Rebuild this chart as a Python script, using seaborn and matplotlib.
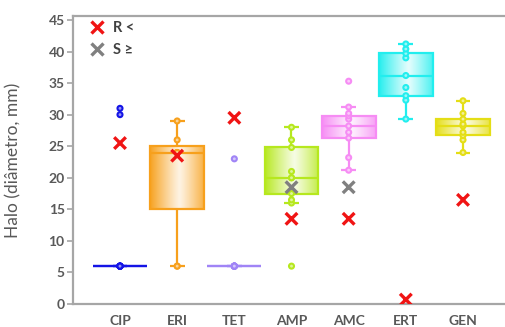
import numpy as np
import pandas as pd
import matplotlib
matplotlib.use("Agg")
import matplotlib.pyplot as plt
import matplotlib.colors as mcolors
import seaborn as sns

# ---------------- data ----------------
categories = ['CIP', 'ERI', 'TET', 'AMP', 'AMC', 'ERT', 'GEN']
colors = ['#1414E6', '#F7A01C', '#A084F6', '#B6E81E', '#F68CF4', '#22EEEE', '#E4DE16']

inner_CIP = [6, 6, 6, 6, 6, 6, 6, 6]
inner_ERI = [6, 6, 24, 24, 24, 26, 29]
inner_TET = [6, 6, 6, 6, 6, 6, 6, 6]
inner_AMP = [16, 16.5, 17.5, 20, 20, 21, 24.8, 26, 28]
inner_AMC = [21.2, 23.2, 26.3, 27.2, 28.2, 29.3, 29.8, 30.2, 31.2]
inner_ERT = [29.3, 32.3, 33, 34.3, 36.2, 39, 39.7, 40.4, 41.2]
inner_GEN = [24, 26, 26.7, 27.2, 28.2, 28.5, 29.3, 30.2, 32.2]

outliers_CIP = [30, 31]
outliers_TET = [23]
outliers_AMP = [6]
outliers_AMC = [35.3]

r_threshold = [25.5, 23.5, 29.5, 13.5, 13.5, 0.7, 16.5]   # "R <"
s_categories = ['AMP', 'AMC']
s_threshold = [18.5, 18.5]                                 # "S ≥"

y_ticks = [0, 5, 10, 15, 20, 25, 30, 35, 40, 45]
y_label = 'Halo (diâmetro, mm)'
legend_labels = ['R <', 'S ≥']

inner = {'CIP': inner_CIP, 'ERI': inner_ERI, 'TET': inner_TET, 'AMP': inner_AMP,
         'AMC': inner_AMC, 'ERT': inner_ERT, 'GEN': inner_GEN}
outliers = {'CIP': outliers_CIP, 'TET': outliers_TET, 'AMP': outliers_AMP,
            'AMC': outliers_AMC}

box_df = pd.DataFrame([(c, v) for c in categories for v in inner[c]],
                      columns=['ab', 'v'])
pts_df = pd.DataFrame([(c, v) for c in categories
                       for v in inner[c] + outliers.get(c, [])],
                      columns=['ab', 'v'])
thr_df = pd.DataFrame(
    [(categories.index(c), v, legend_labels[0]) for c, v in zip(categories, r_threshold)] +
    [(categories.index(c), v, legend_labels[1]) for c, v in zip(s_categories, s_threshold)],
    columns=['pos', 'v', 'kind'])

palette = dict(zip(categories, colors))

# ---------------- style ----------------
sns.set_style('white')
plt.rcParams['font.family'] = ['Lato', 'DejaVu Sans']
text_gray = '#595959'
spine_gray = '#A6A6A6'

fig = plt.figure(figsize=(5.06, 3.27), dpi=100)
ax = fig.add_axes([73 / 506, 1 - 304 / 327, 437 / 506, 288 / 327])

sns.boxplot(data=box_df, x='ab', y='v', hue='ab', palette=palette, order=categories,
            hue_order=categories, width=0.94, whis=(0, 100), showfliers=False,
            linewidth=1.5, capwidths=0.26, legend=False, ax=ax, zorder=2)

# colour every box element in its own category colour and add gradient fill
for line in ax.lines:
    xd = np.asarray(line.get_xdata(), dtype=float)
    i = int(round(np.mean(xd)))
    line.set_color(colors[i])
    line.set_linewidth(1.6)
    line.set_solid_capstyle('butt')

t = np.linspace(0, 1, 80)
mix = np.clip(0.12 + 0.85 * np.abs((t - 0.55) / 0.55) ** 1.1, 0, 1)
for patch in list(ax.patches):
    ext = patch.get_path().get_extents()
    i = int(round((ext.x0 + ext.x1) / 2))
    rgb = np.array(mcolors.to_rgb(colors[i]))
    patch.set_facecolor('none')
    patch.set_edgecolor(colors[i])
    patch.set_linewidth(1.6)
    if ext.y1 - ext.y0 > 1e-6:
        img = (1 - mix)[:, None] * np.ones(3) + mix[:, None] * rgb
        im = ax.imshow(img[None, :, :], extent=(ext.x0, ext.x1, ext.y0, ext.y1),
                       aspect='auto', origin='lower', interpolation='bilinear',
                       zorder=patch.get_zorder() - 0.05)
        im.set_clip_path(patch)

# data points (small rings with a light tint in the middle)
n_before = len(ax.collections)
sns.stripplot(data=pts_df, x='ab', y='v', hue='ab', palette=palette, order=categories,
              hue_order=categories, jitter=False, size=3.6, legend=False, ax=ax,
              zorder=3)
for coll in ax.collections[n_before:]:
    fc = coll.get_facecolors()
    coll.set_edgecolors(fc)
    tint = fc.copy()
    tint[:, :3] = 0.55 + 0.45 * tint[:, :3]
    coll.set_facecolors(tint)
    coll.set_linewidths(1.5)

# breakpoint markers
sns.scatterplot(data=thr_df, x='pos', y='v', hue='kind',
                palette={legend_labels[0]: '#F01414', legend_labels[1]: '#808080'},
                marker='x', s=70, linewidth=2.4, ax=ax, zorder=4)

# ---------------- axes ----------------
ax.set_xlim(-0.822, 6.822)
ax.set_ylim(0, 45.63)
ax.set_xticks(range(len(categories)))
ax.set_xticklabels(categories)
ax.set_yticks(y_ticks)
ax.set_xlabel('')
ax.set_ylabel(y_label, fontsize=12.5, color=text_gray)
ax.yaxis.set_label_coords(-0.117, 0.5)

for lab in ax.get_xticklabels() + ax.get_yticklabels():
    lab.set_fontweight('bold')
    lab.set_color(text_gray)
for lab in ax.get_xticklabels():
    lab.set_fontsize(10)
for lab in ax.get_yticklabels():
    lab.set_fontsize(10)

ax.tick_params(axis='y', length=4, width=1.2, color=spine_gray, pad=2, left=True)
ax.tick_params(axis='x', length=0, pad=8)
for side in ['left', 'top', 'bottom']:
    ax.spines[side].set_color(spine_gray)
    ax.spines[side].set_linewidth(1.6)
ax.spines['right'].set_visible(False)

leg = ax.legend(loc='upper left', bbox_to_anchor=(0.018, 1.012), frameon=False,
                fontsize=10.5, handlelength=1.0, handletextpad=0.6,
                labelspacing=0.55, borderaxespad=0.2, markerscale=1.0)
for txt in leg.get_texts():
    txt.set_fontweight('bold')
    txt.set_color('#404040')

fig.savefig('out.png', dpi=100)
